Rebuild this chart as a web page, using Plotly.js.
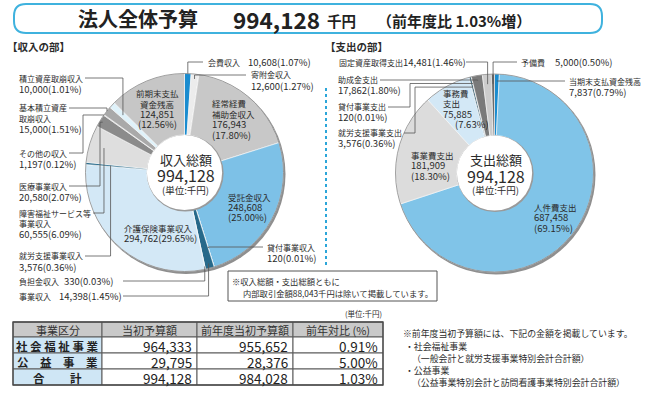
<!DOCTYPE html>
<html><head><meta charset="utf-8">
<script src="https://cdn.plot.ly/plotly-3.0.1.min.js"></script>
<style>html,body{margin:0;padding:0;background:#fff}</style>
</head><body><div id="chart" style="width:650px;height:394px"></div>
<script>
// ---------------- DATA ----------------
const incomeLabels = ['会費収入','寄附金収入','経常経費補助金収入','受託金収入','貸付事業収入','事業収入','負担金収入','介護保険事業収入','就労支援事業収入','障害福祉サービス等事業収入','医療事業収入','その他の収入','基本積立資産取崩収入','積立資産取崩収入','前期末支払資金残高'];
const incomeValues = [10608,12600,176943,248608,120,14398,330,294762,3576,60555,20580,1197,15000,10000,124851];
const incomePct = [1.07,1.27,17.80,25.00,0.01,1.45,0.03,29.65,0.36,6.09,2.07,0.12,1.51,1.01,12.56];

const expenseLabels = ['当期末支払資金残高','人件費支出','事業費支出','事務費支出','就労支援事業支出','貸付事業支出','助成金支出','固定資産取得支出','予備費'];
const expenseValues = [7837,687458,181909,75885,3576,120,17862,14481,5000];
const expensePct = [0.79,69.15,18.30,7.63,0.36,0.01,1.80,1.46,0.50];

const totalBudget = 994128;
const internalTransactions = 88043;
const tableHeaders = ['事業区分','当初予算額','前年度当初予算額','前年対比 (%)'];
const tableCategories = ['社 会 福 祉 事 業','公　益　事　業','合　　 計'];
const tableBudget = [964333,29795,994128];
const tablePrevBudget = [955652,28376,984028];
const tableRatio = [0.91,5.00,1.03];

// ---------------- STYLE ----------------
const W = 650, H = 394;
const FONT = '"Noto Sans CJK JP","Noto Sans",sans-serif';
const TXT = '#2b2b2b';
const incomeColors = ['#1a8ccf','#ececec','#c8c8c8','#7dc1e7','#2b5f7a','#27698a','#3a7ea0','#d3e8f6','#2e6f8e','#dedede','#8b8b8b','#b5b5b5','#a9a9a9','#dff2fa','#c6c6c6'];
const expenseColors = ['#1a8ccf','#80c4e8','#dcdcdc','#d3e8f6','#4a6f80','#444444','#7a7a7a','#cccccc','#6b6b6b'];
const PIE_L = {cx:184.5, cy:172.5, R:99};
const PIE_R = {cx:494.5, cy:173, R:99};
const HOLE = 0.38;

const X = px => px / W;
const Y = py => 1 - py / H;
const fmt = v => v.toLocaleString('en-US');
const pctStr = p => '(' + p.toFixed(2) + '%)';

const annotations = [];
const shapes = [];

function txt(x, y, t, o) {
  o = o || {};
  annotations.push({xref:'paper', yref:'paper', x:X(x), y:Y(y), text:t, showarrow:false,
    xanchor:o.xa || 'left', yanchor:'middle', borderpad:0,
    font:{family:FONT, size:o.size || 8, color:o.color || TXT, weight:o.weight || 'normal'}});
}

function anchor(pie, values, idx, r) {
  const tot = values.reduce((a,b)=>a+b,0);
  let cum = 0;
  for (let k=0;k<idx;k++) cum += values[k];
  const f = (cum + values[idx]/2) / tot;
  const a = f * 2 * Math.PI;
  return [pie.cx + r*pie.R*Math.sin(a), pie.cy - r*pie.R*Math.cos(a)];
}

function leader(pie, values, s) {
  const a = anchor(pie, values, s.i, s.r);
  const pts = [s.start].concat(s.via || []);
  const last = pts[pts.length-1];
  if (s.mode === 'vh') { pts.push([last[0], a[1]]); }
  else { pts.push([a[0], last[1]]); }
  pts.push(a);
  shapes.push({type:'path', xref:'paper', yref:'paper', layer:'above',
    path:'M ' + pts.map(p => X(p[0]) + ',' + Y(p[1])).join(' L '),
    line:{color:'#555', width:0.8}});
}

function labelText(names, values, pcts, s) {
  const name = names[s.i], v = values[s.i], p = pcts[s.i];
  const lh = s.lh || 10.5;
  const cs = s.cs || 8, ns = s.ns || 9.5;
  const xa = s.xa || 'left';
  const nameLines = s.brk ? [name.slice(0,s.brk), name.slice(s.brk)] : [name];
  let rows = [];
  if (s.type === 'inline') {
    txt(s.x, s.y, name, {size:cs, xa});
    txt(s.nx, s.y, fmt(v) + pctStr(p), {size:ns, xa});
    return;
  }
  nameLines.forEach(t => rows.push({t, size:cs}));
  if (s.type === 'two') rows.push({t: fmt(v) + pctStr(p), size:ns});
  else { rows.push({t: fmt(v), size:ns}); rows.push({t: pctStr(p), size:ns}); }
  rows.forEach((r, k) => {
    const dx = (s.indent && s.indent[k]) || 0;
    txt(s.x + dx, s.y + k*lh, r.t, {size:r.size, xa});
  });
}

// ---------------- LABEL LAYOUT ----------------
const incomeOut = [
  {i:0, type:'inline', x:207, nx:247, y:62, start:[203,62], mode:'hv', r:1.0},
  {i:1, type:'two', x:250, y:75, start:[246,75], mode:'hv', r:0.95},
  {i:4, type:'two', x:266, y:247, start:[263,247], mode:'hv', r:0.8},
  {i:5, type:'inline', x:18, nx:58, y:296, start:[123,296], mode:'hv', r:0.95},
  {i:6, type:'inline', x:18, nx:63, y:281, start:[123,281], mode:'hv', r:0.97},
  {i:8, type:'two', x:18, y:256, start:[85,256], mode:'hv', r:0.75},
  {i:9, type:'two', brk:9, x:18, y:213, start:[93,213], mode:'hv', r:0.85},
  {i:10, type:'two', x:18, y:186, start:[69,186], via:[[100,186]], mode:'vh', r:0.97},
  {i:11, type:'two', x:18, y:153, start:[69,153], via:[[83,153]], mode:'vh', r:1.0},
  {i:12, type:'two', brk:6, x:18, y:108, start:[69,108], mode:'hv', r:1.0},
  {i:13, type:'two', x:18, y:78, start:[85,78], mode:'hv', r:0.85}
];
const incomeIn = [
  {i:14, type:'four', brk:5, x:157, xa:'center', y:93, lh:10.5, cs:8.5},
  {i:2, type:'four', brk:4, x:211, y:103, lh:10.5, cs:8.5},
  {i:3, type:'three', x:227, y:197, lh:10, cs:8.5},
  {i:7, type:'two', x:123, y:228, lh:10.5, cs:8.5}
];
const expenseOut = [
  {i:7, type:'inline', x:338, nx:402, y:62, start:[466,62], mode:'hv', r:0.9},
  {i:8, type:'inline', x:520, nx:554, y:62, start:[517,62], mode:'hv', r:0.9},
  {i:0, type:'two', x:568, y:81, start:[565,81], mode:'hv', r:0.93},
  {i:6, type:'two', x:337, y:80, start:[380,80], mode:'hv', r:0.95},
  {i:5, type:'two', x:337, y:107, start:[388,107], via:[[410,107]], mode:'vh', r:0.93},
  {i:4, type:'two', x:337, y:133, start:[404,133], via:[[415,133]], mode:'vh', r:0.895}
];
const expenseIn = [
  {i:3, type:'four', brk:3, x:442, y:93, lh:10.4, cs:8.5, indent:[0,0,0,12]},
  {i:2, type:'three', x:410, y:155, lh:10.4, cs:8.5},
  {i:1, type:'three', x:533, y:207, lh:10.4, cs:8.5}
];

// donut shadows / rims
[PIE_L, PIE_R].forEach(p => {
  shapes.push({type:'circle', xref:'paper', yref:'paper', layer:'below',
    x0:X(p.cx-p.R+1), x1:X(p.cx+p.R+2), y0:Y(p.cy+p.R+2.5), y1:Y(p.cy-p.R+1),
    fillcolor:'#8f8f8f', line:{width:0}});
  shapes.push({type:'circle', xref:'paper', yref:'paper', layer:'above',
    x0:X(p.cx-p.R), x1:X(p.cx+p.R), y0:Y(p.cy+p.R), y1:Y(p.cy-p.R),
    fillcolor:'rgba(0,0,0,0)', line:{color:'#7a7a7a', width:0.7}});
  const hr = HOLE*p.R;
  shapes.push({type:'circle', xref:'paper', yref:'paper', layer:'above',
    x0:X(p.cx-hr), x1:X(p.cx+hr+1.5), y0:Y(p.cy+hr+1.5), y1:Y(p.cy-hr),
    fillcolor:'#9a9a9a', line:{width:0}});
  shapes.push({type:'circle', xref:'paper', yref:'paper', layer:'above',
    x0:X(p.cx-hr), x1:X(p.cx+hr), y0:Y(p.cy+hr), y1:Y(p.cy-hr),
    fillcolor:'#ffffff', line:{width:0}});
});

incomeOut.forEach(s => { leader(PIE_L, incomeValues, s); labelText(incomeLabels, incomeValues, incomePct, s); });
incomeIn.forEach(s => labelText(incomeLabels, incomeValues, incomePct, s));
expenseOut.forEach(s => { leader(PIE_R, expenseValues, s); labelText(expenseLabels, expenseValues, expensePct, s); });
expenseIn.forEach(s => labelText(expenseLabels, expenseValues, expensePct, s));

// center texts
[[PIE_L,'収入総額'],[PIE_R,'支出総額']].forEach(([p,t]) => {
  txt(p.cx+1, p.cy-13.5, t, {size:13, xa:'center'});
  txt(p.cx+1, p.cy+2.5, fmt(totalBudget), {size:16, xa:'center'});
  txt(p.cx+1, p.cy+17, '(単位:千円)', {size:9.5, xa:'center'});
});

// title box
(function(){
  const x0=14, x1=602, y0=4, y1=33, rd=12;
  const P = (x,y) => X(x)+','+Y(y);
  shapes.push({type:'path', xref:'paper', yref:'paper', layer:'above',
    path:'M '+P(x0+rd,y0)+' L '+P(x1-rd,y0)+' Q '+P(x1,y0)+' '+P(x1,y0+rd)+' L '+P(x1,y1-rd)+' Q '+P(x1,y1)+' '+P(x1-rd,y1)+
         ' L '+P(x0+rd,y1)+' Q '+P(x0,y1)+' '+P(x0,y1-rd)+' L '+P(x0,y0+rd)+' Q '+P(x0,y0)+' '+P(x0+rd,y0)+' Z',
    line:{color:'#3fb2de', width:2}, fillcolor:'rgba(0,0,0,0)'});
})();
txt(77, 19, '法人全体予算', {size:20, weight:'bold', color:'#222'});
txt(232, 19, fmt(totalBudget), {size:22.5, weight:'bold', color:'#222'});
txt(326, 20.5, '千円', {size:14.5, weight:'bold', color:'#222'});
txt(376, 20, '（前年度比 ' + tableRatio[2].toFixed(2) + '%増）', {size:15, weight:'bold', color:'#222'});

// section headers
txt(6, 47, '【収入の部】', {size:10.5, weight:'bold'});
txt(324, 47, '【支出の部】', {size:10.5, weight:'bold'});

// dotted divider
shapes.push({type:'line', xref:'paper', yref:'paper', x0:X(326), x1:X(326), y0:Y(88), y1:Y(268),
  line:{color:'#2ca6d9', width:2, dash:'dot'}});

// note box
shapes.push({type:'rect', xref:'paper', yref:'paper', x0:X(228), x1:X(437), y0:Y(301), y1:Y(271),
  line:{color:'#555', width:1}, fillcolor:'#fff', layer:'above'});
txt(231, 280.5, '※収入総額・支出総額ともに', {size:8.3});
txt(242, 293, '内部取引金額' + fmt(internalTransactions) + '千円は除いて掲載しています。', {size:8.3});

// ---------------- TABLE (cells from the table arrays) ----------------
const colEdges = [13,102,197,293,383];
const rowEdges = [322,337,353,369,385];
const tableCols = [tableCategories, tableBudget.map(fmt), tablePrevBudget.map(fmt), tableRatio.map(r => r.toFixed(2) + '%')];
for (let r = 0; r < rowEdges.length-1; r++) {
  for (let c = 0; c < colEdges.length-1; c++) {
    const fill = r === 0 ? '#c9c9c9' : (c === 0 ? '#cfe6f5' : '#ffffff');
    shapes.push({type:'rect', xref:'paper', yref:'paper', layer:'above',
      x0:X(colEdges[c]), x1:X(colEdges[c+1]), y0:Y(rowEdges[r+1]), y1:Y(rowEdges[r]),
      fillcolor:fill, line:{color:'#5a5a5a', width:1}});
    const yc = (rowEdges[r] + rowEdges[r+1]) / 2 + 0.5;
    if (r === 0) {
      txt((colEdges[c]+colEdges[c+1])/2, yc, tableHeaders[c], {size:11, xa:'center', color:'#333'});
    } else if (c === 0) {
      txt((colEdges[c]+colEdges[c+1])/2, yc, tableCols[c][r-1], {size:11.5, xa:'center', weight:'bold', color:'#222'});
    } else {
      txt(colEdges[c+1]-4, yc, tableCols[c][r-1], {size:13.5, xa:'right', color:'#222'});
    }
  }
}
shapes.push({type:'rect', xref:'paper', yref:'paper', layer:'above',
  x0:X(colEdges[0]), x1:X(colEdges[4]), y0:Y(rowEdges[4]), y1:Y(rowEdges[0]),
  fillcolor:'rgba(0,0,0,0)', line:{color:'#4a4a4a', width:1.3}});
txt(383, 313, '(単位:千円)', {size:7.5, xa:'right'});

// right notes
txt(402, 333, '※前年度当初予算額には、下記の金額を掲載しています。', {size:8.9});
txt(404, 346, '・社会福祉事業', {size:8.9});
txt(411, 358, '（一般会計と就労支援事業特別会計合計額）', {size:8.9});
txt(404, 370, '・公益事業', {size:8.9});
txt(411, 382, '（公益事業特別会計と訪問看護事業特別会計合計額）', {size:8.9});

// ---------------- TRACES ----------------
function pieTrace(p, labels, values, colors) {
  return {type:'pie', labels, values, sort:false, direction:'clockwise', rotation:0, hole:HOLE,
    textinfo:'none', hoverinfo:'skip', showlegend:false,
    marker:{colors, line:{color:'#ffffff', width:0.6}},
    domain:{x:[X(p.cx-p.R), X(p.cx+p.R)], y:[Y(p.cy+p.R), Y(p.cy-p.R)]}};
}

const data = [pieTrace(PIE_L, incomeLabels, incomeValues, incomeColors),
              pieTrace(PIE_R, expenseLabels, expenseValues, expenseColors)];

const layout = {width:W, height:H, margin:{l:0,r:0,t:0,b:0}, paper_bgcolor:'#fff', plot_bgcolor:'#fff',
  showlegend:false, annotations, shapes, font:{family:FONT}};

Plotly.newPlot('chart', data, layout, {staticPlot:true, displayModeBar:false});
</script></body></html>
